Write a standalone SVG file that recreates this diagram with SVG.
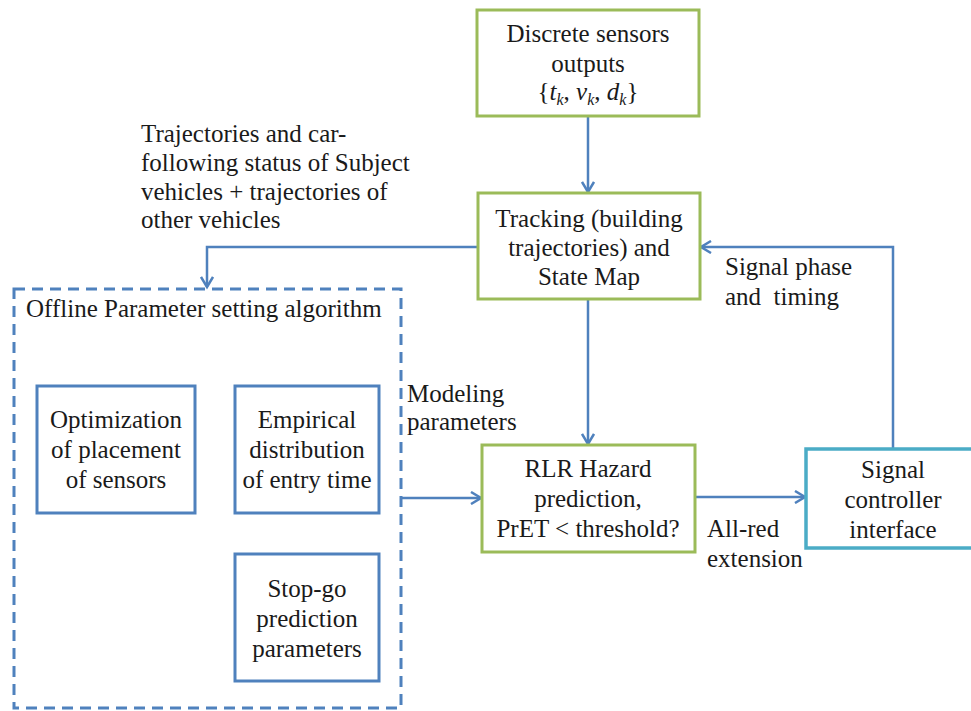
<svg xmlns="http://www.w3.org/2000/svg" width="971" height="711" viewBox="0 0 971 711">
<style>
text{font-family:'Liberation Serif','DejaVu Serif',serif;font-size:25px;fill:#1a1a1a}
.c{text-anchor:middle}
.g{fill:#fff;stroke:#9BBB59;stroke-width:3}
.b{fill:#fff;stroke:#4F81BD;stroke-width:3}
.cy{fill:#fff;stroke:#4BACC6;stroke-width:3.5}
.ln{fill:none;stroke:#4F81BD;stroke-width:2.5;marker-end:url(#ah)}
.pre{white-space:pre}
</style>
<defs>
<marker id="ah" markerUnits="userSpaceOnUse" markerWidth="14" markerHeight="14" refX="11" refY="7" orient="auto">
<path d="M1,1 L11,7 L1,13" fill="none" stroke="#4F81BD" stroke-width="2.5"/>
</marker>
</defs>
<rect width="971" height="711" fill="#fff"/>
<g id="connectors">
<path class="ln" d="M588,117 L588,192"/>
<path class="ln" d="M478,247 L207,247 L207,287"/>
<path class="ln" d="M588,300 L588,444"/>
<path class="ln" d="M401,498 L481,498"/>
<path class="ln" d="M695,497 L805,497"/>
<path class="ln" d="M893,448 L893,247 L701,247"/>
</g>
<g id="offline">
<rect x="14" y="289" width="387" height="419" fill="none" stroke="#4F81BD" stroke-width="3" stroke-dasharray="11,7"/>
<text x="26" y="317" font-family="Liberation Serif, serif">Offline Parameter setting algorithm</text>
</g>
<g id="sensors">
<rect class="g" x="477" y="10" width="222" height="106"/>
<text class="c" x="588" y="42">Discrete sensors</text>
<text class="c" x="588" y="72">outputs</text>
<text class="c" x="588" y="100">{<tspan font-style="italic">t</tspan><tspan font-style="italic" font-size="16" dy="5">k</tspan><tspan dy="-5">, </tspan><tspan font-style="italic">v</tspan><tspan font-style="italic" font-size="16" dy="5">k</tspan><tspan dy="-5">, </tspan><tspan font-style="italic">d</tspan><tspan font-style="italic" font-size="16" dy="5">k</tspan><tspan dy="-5">}</tspan></text>
</g>
<g id="tracking">
<rect class="g" x="478" y="193" width="222" height="106"/>
<text class="c" x="589" y="227">Tracking (building</text>
<text class="c" x="589" y="256">trajectories) and</text>
<text class="c" x="589" y="285">State Map</text>
</g>
<g id="rlr">
<rect class="g" x="482" y="445" width="213" height="107"/>
<text class="c" x="588" y="477">RLR Hazard</text>
<text class="c" x="588" y="507">prediction,</text>
<text class="c" x="588" y="537">PrET &lt; threshold?</text>
</g>
<g id="signal">
<rect class="cy" x="806" y="449" width="180" height="99"/>
<text class="c" x="893" y="478">Signal</text>
<text class="c" x="893" y="508">controller</text>
<text class="c" x="893" y="538">interface</text>
</g>
<g id="optimization">
<rect class="b" x="37" y="386" width="158" height="127"/>
<text class="c" x="116" y="428">Optimization</text>
<text class="c" x="116" y="458">of placement</text>
<text class="c" x="116" y="488">of sensors</text>
</g>
<g id="empirical">
<rect class="b" x="235" y="386" width="144" height="127"/>
<text class="c" x="307" y="428">Empirical</text>
<text class="c" x="307" y="458">distribution</text>
<text class="c" x="307" y="488">of entry time</text>
</g>
<g id="stopgo">
<rect class="b" x="235" y="554" width="144" height="127"/>
<text class="c" x="307" y="597">Stop-go</text>
<text class="c" x="307" y="627">prediction</text>
<text class="c" x="307" y="657">parameters</text>
</g>
<g id="labels">
<text x="141" y="142">Trajectories and car-</text>
<text x="141" y="171">following status of Subject</text>
<text x="141" y="200">vehicles + trajectories of</text>
<text x="141" y="228">other vehicles</text>
<text x="725" y="275">Signal phase</text>
<text class="pre" x="725" y="305">and  timing</text>
<text x="407" y="402">Modeling</text>
<text x="407" y="430">parameters</text>
<text x="707" y="537">All-red</text>
<text x="707" y="567">extension</text>
</g>
</svg>
